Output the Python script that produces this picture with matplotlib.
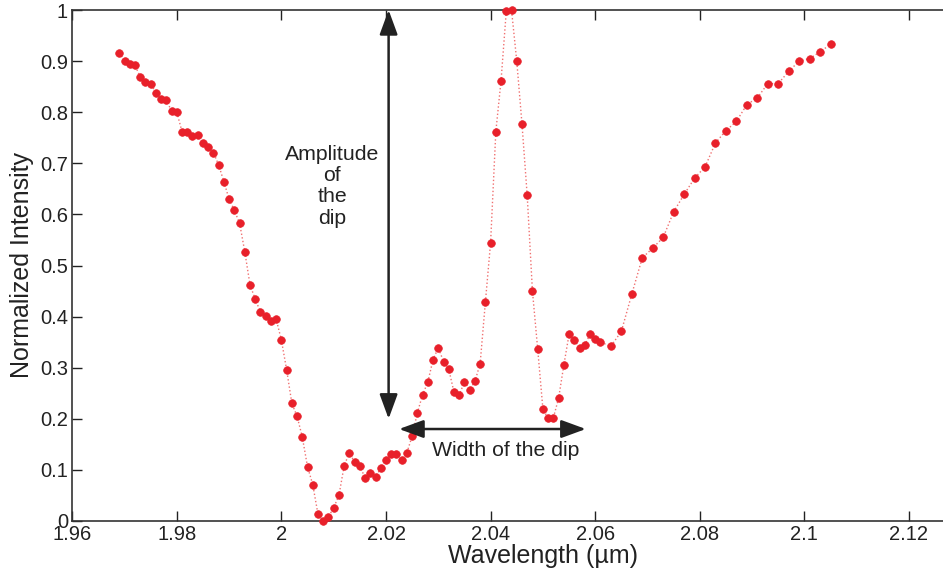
import matplotlib
matplotlib.use("Agg")
import matplotlib.pyplot as plt

plt.rcParams['font.family'] = ['Liberation Sans', 'DejaVu Sans']

wavelength = [
    1.969, 1.970, 1.971, 1.972, 1.973, 1.974, 1.975, 1.976, 1.977, 1.978,
    1.979, 1.980, 1.981, 1.982, 1.983, 1.984, 1.985, 1.986, 1.987, 1.988,
    1.989, 1.990, 1.991, 1.992, 1.993, 1.994, 1.995, 1.996, 1.997, 1.998,
    1.999, 2.000, 2.001, 2.002, 2.003, 2.004, 2.005, 2.006, 2.007, 2.008,
    2.009, 2.010, 2.011, 2.012, 2.013, 2.014, 2.015, 2.016, 2.017, 2.018,
    2.019, 2.020, 2.021, 2.022, 2.023, 2.024, 2.025, 2.026, 2.027, 2.028,
    2.029, 2.030, 2.031, 2.032, 2.033, 2.034, 2.035, 2.036, 2.037, 2.038,
    2.039, 2.040, 2.041, 2.042, 2.043, 2.044, 2.045, 2.046, 2.047, 2.048,
    2.049, 2.050, 2.051, 2.052, 2.053, 2.054, 2.055, 2.056, 2.057, 2.058,
    2.059, 2.060, 2.061, 2.063, 2.065, 2.067, 2.069, 2.071, 2.073, 2.075,
    2.077, 2.079, 2.081, 2.083, 2.085, 2.087, 2.089, 2.091, 2.093, 2.095,
    2.097, 2.099, 2.101, 2.103, 2.105,
]
intensity = [
    0.916, 0.901, 0.894, 0.892, 0.869, 0.859, 0.856, 0.838, 0.826, 0.824,
    0.802, 0.800, 0.762, 0.762, 0.753, 0.755, 0.739, 0.731, 0.721, 0.697,
    0.664, 0.630, 0.608, 0.583, 0.527, 0.462, 0.434, 0.409, 0.402, 0.391,
    0.395, 0.354, 0.296, 0.230, 0.205, 0.164, 0.106, 0.071, 0.013, 0.000,
    0.008, 0.026, 0.050, 0.108, 0.134, 0.115, 0.108, 0.084, 0.094, 0.086,
    0.103, 0.119, 0.131, 0.131, 0.120, 0.134, 0.166, 0.212, 0.247, 0.272,
    0.316, 0.339, 0.312, 0.297, 0.252, 0.247, 0.272, 0.257, 0.273, 0.308,
    0.428, 0.545, 0.762, 0.862, 0.998, 1.000, 0.900, 0.777, 0.637, 0.450,
    0.337, 0.219, 0.201, 0.202, 0.240, 0.305, 0.365, 0.354, 0.339, 0.344,
    0.365, 0.357, 0.350, 0.342, 0.371, 0.444, 0.515, 0.534, 0.555, 0.605,
    0.639, 0.671, 0.693, 0.740, 0.764, 0.782, 0.815, 0.828, 0.856, 0.856,
    0.880, 0.900, 0.905, 0.918, 0.933,
]
xticks = [1.96, 1.98, 2.00, 2.02, 2.04, 2.06, 2.08, 2.10, 2.12]
xticklabels = ['1.96', '1.98', '2', '2.02', '2.04', '2.06', '2.08', '2.1', '2.12']
yticks = [0, 0.1, 0.2, 0.3, 0.4, 0.5, 0.6, 0.7, 0.8, 0.9, 1.0]
yticklabels = ['0', '0.1', '0.2', '0.3', '0.4', '0.5', '0.6', '0.7', '0.8', '0.9', '1']

fig = plt.figure(figsize=(9.43, 5.79), dpi=100)
W, H = 943, 579
ax = fig.add_axes([72.2 / W, 58 / H, (1013.6 - 72.2) / W, (521 - 10) / H])

ax.plot(wavelength, intensity, linestyle=':', color='#f07070', linewidth=1.0,
        marker='o', markersize=5.5, markerfacecolor='#e8202a',
        markeredgecolor='#e8202a', markeredgewidth=0.5, clip_on=False, zorder=3)

ax.set_xlim(1.96, 2.14)
ax.set_ylim(0, 1)
ax.set_xticks(xticks)
ax.set_xticklabels(xticklabels)
ax.set_yticks(yticks)
ax.set_yticklabels(yticklabels)
ax.tick_params(direction='in', length=7, width=1, labelsize=14.5, colors='#222222',
               top=True, right=False, pad=3)
ax.tick_params(axis='x', pad=3)
for s in ['left', 'bottom', 'top']:
    ax.spines[s].set_color('#333333')
    ax.spines[s].set_linewidth(1.2)
ax.spines['right'].set_visible(False)

ax.set_xlabel('Wavelength (µm)', fontsize=18, labelpad=0, color='#222222')
ax.set_ylabel('Normalized Intensity', fontsize=18, labelpad=4, color='#222222')

arrow_kw = dict(arrowstyle='<|-|>,head_length=0.6,head_width=0.22', color='#222222',
                lw=1.8, mutation_scale=25, shrinkA=0, shrinkB=0)
ax.annotate('', xy=(2.0205, 1.0), xytext=(2.0205, 0.2), arrowprops=arrow_kw,
            annotation_clip=False)
ax.annotate('', xy=(2.0225, 0.18), xytext=(2.0582, 0.18), arrowprops=arrow_kw)

ax.text(2.0097, 0.655, 'Amplitude\nof\nthe\ndip', ha='center', va='center',
        fontsize=15.3, linespacing=1.15, color='#222222')
ax.text(2.0428, 0.137, 'Width of the dip', ha='center', va='center',
        fontsize=15.3, color='#222222')

fig.savefig('out.png', dpi=100)
